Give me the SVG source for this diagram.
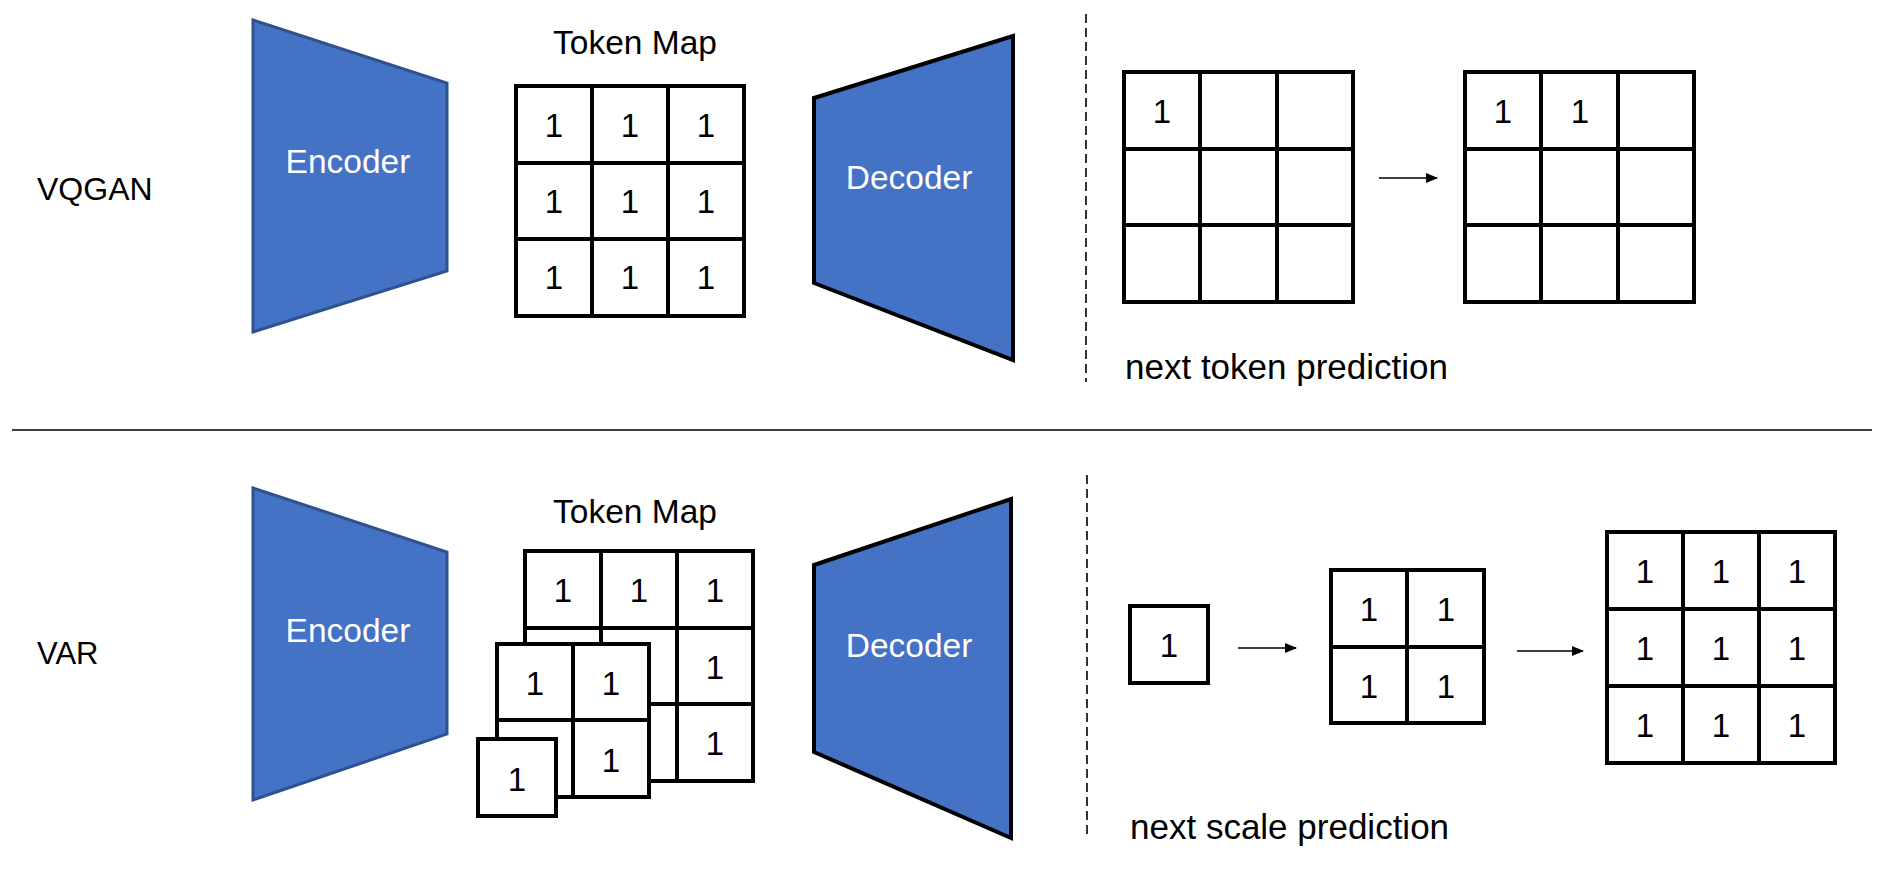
<svg xmlns="http://www.w3.org/2000/svg" width="1882" height="881" viewBox="0 0 1882 881">
<style>
text{font-family:"Liberation Sans",Arial,sans-serif;fill:#000}
.lbl{font-size:33.5px}
.wt{fill:#fff;font-size:33.5px;text-anchor:middle}
.d{font-size:33px;text-anchor:middle}
.c{text-anchor:middle}
.enc{fill:#4472C4;stroke:#2F528F;stroke-width:3}
.dec{fill:#4472C4;stroke:#000;stroke-width:4;stroke-linejoin:miter}
.g{fill:#fff;stroke:#000;stroke-width:4}
.gl{stroke:#000;stroke-width:4;fill:none}
.dash{stroke:#000;stroke-width:1.6;stroke-dasharray:9 5;fill:none}
.sep{stroke:#000;stroke-width:1.6}
.arr{stroke:#000;stroke-width:1.6;fill:none;marker-end:url(#ah)}
</style>
<defs>
<marker id="ah" markerWidth="12" markerHeight="10" refX="11" refY="5" orient="auto" markerUnits="userSpaceOnUse">
<path d="M0,0 L12,5 L0,10 z" fill="#000"/>
</marker>
</defs>
<rect width="1882" height="881" fill="#fff"/>

<g id="labels">
<text class="lbl" x="37" y="200" style="font-size:32px">VQGAN</text>
<text class="lbl" x="37" y="664" style="font-size:31px">VAR</text>
</g>

<g id="separator"><line class="sep" x1="12" y1="430" x2="1872" y2="430"/></g>
<g id="dividers">
<line class="dash" x1="1086" y1="14" x2="1086" y2="382"/>
<line class="dash" x1="1087" y1="475" x2="1087" y2="838"/>
</g>

<!-- top row -->
<g id="encoder-top">
<polygon class="enc" points="253,20 447,83 447,271 253,332"/>
<text class="wt" x="348" y="173">Encoder</text>
</g>
<g id="tokenmap-top">
<text class="lbl c" x="635" y="54">Token Map</text>
<rect class="g" x="516" y="86" width="228" height="230"/>
<path class="gl" d="M592,86V316M668,86V316M516,163H744M516,239H744"/>
<text class="d" x="554" y="137">1</text><text class="d" x="630" y="137">1</text><text class="d" x="706" y="137">1</text>
<text class="d" x="554" y="213">1</text><text class="d" x="630" y="213">1</text><text class="d" x="706" y="213">1</text>
<text class="d" x="554" y="289">1</text><text class="d" x="630" y="289">1</text><text class="d" x="706" y="289">1</text>
</g>
<g id="decoder-top">
<polygon class="dec" points="814,98 1013,36 1013,360 814,283"/>
<text class="wt" x="909" y="189">Decoder</text>
</g>
<g id="grid-a">
<rect class="g" x="1124" y="72" width="229" height="230"/>
<path class="gl" d="M1200,72V302M1277,72V302M1124,149H1353M1124,225H1353"/>
<text class="d" x="1162" y="123">1</text>
</g>
<g id="grid-b">
<rect class="g" x="1465" y="72" width="229" height="230"/>
<path class="gl" d="M1541,72V302M1618,72V302M1465,149H1694M1465,225H1694"/>
<text class="d" x="1503" y="123">1</text><text class="d" x="1580" y="123">1</text>
</g>
<g id="caption-top"><text class="lbl" x="1125" y="379" style="font-size:35px">next token prediction</text></g>

<!-- bottom row -->
<g id="encoder-bottom">
<polygon class="enc" points="253,488 447,552 447,734 253,800"/>
<text class="wt" x="348" y="642">Encoder</text>
</g>
<g id="tokenmap-bottom">
<text class="lbl c" x="635" y="523">Token Map</text>
<g id="scale3">
<rect class="g" x="525" y="551" width="228" height="230"/>
<path class="gl" d="M601,551V781M677,551V781M525,628H753M525,704H753"/>
<text class="d" x="563" y="602">1</text><text class="d" x="639" y="602">1</text><text class="d" x="715" y="602">1</text>
<text class="d" x="715" y="679">1</text>
<text class="d" x="715" y="755">1</text>
</g>
<g id="scale2">
<rect class="g" x="497" y="644" width="152" height="153"/>
<path class="gl" d="M573,644V797M497,720H649"/>
<text class="d" x="535" y="695">1</text><text class="d" x="611" y="695">1</text>
<text class="d" x="611" y="772">1</text>
</g>
<g id="scale1">
<rect class="g" x="478" y="739" width="78" height="77"/>
<text class="d" x="517" y="791">1</text>
</g>
</g>
<g id="decoder-bottom">
<polygon class="dec" points="814,565 1011,499 1011,838 814,752"/>
<text class="wt" x="909" y="657">Decoder</text>
</g>
<g id="grid-1x1">
<rect class="g" x="1130" y="606" width="78" height="77"/>
<text class="d" x="1169" y="657">1</text>
</g>
<g id="grid-2x2">
<rect class="g" x="1331" y="570" width="153" height="153"/>
<path class="gl" d="M1407,570V723M1331,647H1484"/>
<text class="d" x="1369" y="621">1</text><text class="d" x="1446" y="621">1</text>
<text class="d" x="1369" y="698">1</text><text class="d" x="1446" y="698">1</text>
</g>
<g id="grid-3x3">
<rect class="g" x="1607" y="532" width="228" height="231"/>
<path class="gl" d="M1683,532V763M1759,532V763M1607,609H1835M1607,686H1835"/>
<text class="d" x="1645" y="583">1</text><text class="d" x="1721" y="583">1</text><text class="d" x="1797" y="583">1</text>
<text class="d" x="1645" y="660">1</text><text class="d" x="1721" y="660">1</text><text class="d" x="1797" y="660">1</text>
<text class="d" x="1645" y="737">1</text><text class="d" x="1721" y="737">1</text><text class="d" x="1797" y="737">1</text>
</g>
<g id="caption-bottom"><text class="lbl" x="1130" y="839" style="font-size:35px">next scale prediction</text></g>

<g id="connectors">
<line class="arr" x1="1379" y1="178" x2="1437" y2="178"/>
<line class="arr" x1="1238" y1="648" x2="1296" y2="648"/>
<line class="arr" x1="1517" y1="651" x2="1583" y2="651"/>
</g>
</svg>
